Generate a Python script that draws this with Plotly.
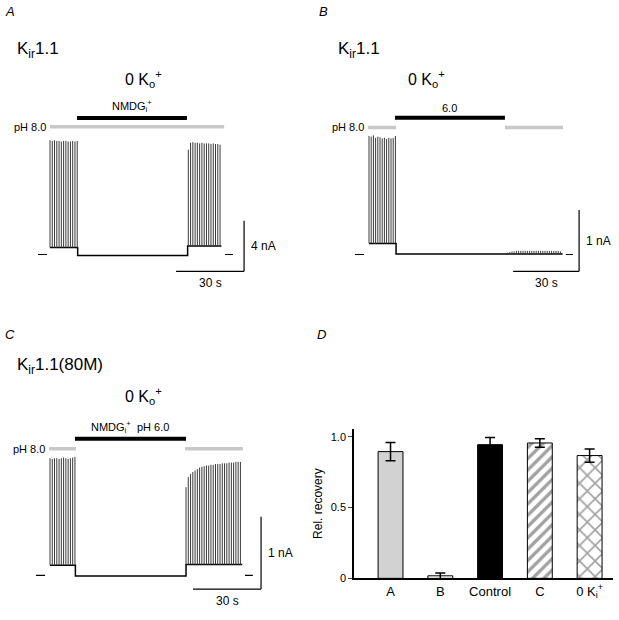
import plotly.graph_objs as go

W, H = 619, 620
FONT = "Liberation Sans, Arial, sans-serif"
GRAY = "#c8c8c8"

# ---- panel A : Kir1.1, NMDG+ internal (time s, current nA) ----
A_EDGES = [0, 12.2, 60.7, 75.6]          # block start, washout, recovery, end
A_LEVELS = [0.55, -0.08, 0.68]           # holding level in each phase
A_T1 = [0, 1, 2, 3, 4, 5, 6, 7, 8, 9, 10, 11, 12]
A_TOP1 = [9.05, 9.0, 9.05, 9.0, 9.0, 8.95, 9.0, 9.0, 8.95, 8.95, 9.0, 8.95, 9.0]
A_T2 = [61, 62, 63, 64, 65, 66, 67, 68, 69, 70, 71, 72, 73, 74, 75]
A_TOP2 = [8.3, 8.85, 8.9, 8.85, 8.85, 8.8, 8.85, 8.8, 8.8, 8.8, 8.75, 8.8, 8.75, 8.75, 8.7]
A_ZERO = [(-5.3, -1.3), (77.2, 80.7)]
A_BLACK = (11.9, 60.4)
A_PH8 = [(0, 76.8)]
A_SCALE = (30, 4)

# ---- panel B : Kir1.1, pH 6.0 ----
B_EDGES = [0, 12.3, 62.0, 88.0]
B_LEVELS = [0.18, 0.01, 0.01]
B_T1 = [0, 1, 2, 3, 4, 5, 6, 7, 8, 9, 10, 11, 12]
B_TOP1 = [1.93, 1.92, 1.94, 1.9, 1.92, 1.91, 1.89, 1.9, 1.88, 1.9, 1.89, 1.9, 1.93]
B_T2 = [63, 64, 65, 66, 67, 68, 69, 70, 71, 72, 73, 74, 75, 76, 77, 78, 79, 80,
        81, 82, 83, 84, 85, 86, 87]
B_TOP2 = [0.03, 0.04, 0.05, 0.05, 0.06, 0.06, 0.06, 0.06, 0.06, 0.06, 0.06, 0.06, 0.06,
          0.06, 0.06, 0.06, 0.06, 0.06, 0.06, 0.06, 0.06, 0.06, 0.06, 0.06, 0.05]
B_ZERO = [(-6.4, -2.3), (89.5, 92.7)]
B_BLACK = (11.8, 61.8)
B_PH8 = [(-0.5, 12.3), (61.8, 88.2)]
B_SCALE = (30, 1)

# ---- panel C : Kir1.1(80M), NMDG+ pH 6.0 ----
C_EDGES = [0, 11.2, 60.0, 84.8]
C_LEVELS = [0.14, -0.01, 0.15]
C_T1 = [0, 1, 2, 3, 4, 5, 6, 7, 8, 9, 10, 11]
C_TOP1 = [1.62, 1.61, 1.62, 1.62, 1.61, 1.62, 1.63, 1.62, 1.61, 1.62, 1.63, 1.64]
C_T2 = [60, 61, 62, 63, 64, 65, 66, 67, 68, 69, 70, 71, 72, 73, 74, 75, 76, 77,
        78, 79, 80, 81, 82, 83, 84]
C_TOP2 = [1.22, 1.36, 1.40, 1.43, 1.45, 1.47, 1.49, 1.50, 1.51, 1.52, 1.52, 1.53, 1.53,
          1.54, 1.54, 1.54, 1.55, 1.55, 1.55, 1.56, 1.56, 1.56, 1.57, 1.57, 1.57]
C_ZERO = [(-6.2, -2.2), (86.0, 89.5)]
C_BLACK = (11.0, 60.0)
C_PH8 = [(-0.4, 11.5), (59.6, 85.1)]
C_SCALE = (30, 1)

# ---- panel D : relative recovery ----
D_CATS = ["A", "B", "Control", "C", "0 K<sub>i</sub><sup>+</sup>"]
D_MEAN = [0.895, 0.018, 0.944, 0.956, 0.867]
D_SEM = [0.065, 0.02, 0.05, 0.03, 0.047]


def px(x):
    return x / W


def py(y):
    return 1 - y / H


def current_trace(edges, levels, t1, top1, t2, top2, ax):
    x = [edges[0], edges[1], edges[1], edges[2], edges[2], edges[3]]
    y = [levels[0], levels[0], levels[1], levels[1], levels[2], levels[2]]
    base = go.Scatter(x=x, y=y, mode="lines", line=dict(color="black", width=1.5),
                      xaxis="x" + ax, yaxis="y" + ax, hoverinfo="skip")
    sx, sy = [], []
    for t, top in zip(t1, top1):
        sx += [t, t, None]
        sy += [levels[0], top, None]
    for t, top in zip(t2, top2):
        sx += [t, t, None]
        sy += [levels[2], top, None]
    spikes = go.Scatter(x=sx, y=sy, mode="lines", line=dict(color="#3a3a3a", width=1),
                        xaxis="x" + ax, yaxis="y" + ax, hoverinfo="skip")
    return [base, spikes]


def zero_marks(pairs, ax):
    x, y = [], []
    for a, b in pairs:
        x += [a, b, None]
        y += [0, 0, None]
    return go.Scatter(x=x, y=y, mode="lines", line=dict(color="black", width=1.2),
                      xaxis="x" + ax, yaxis="y" + ax, hoverinfo="skip")


shapes = []
annotations = []


def solution_bars(black, grays, y_black, y_gray, label, ax):
    xr, yr = "x" + ax, "y" + ax
    for a, b in grays:
        shapes.append(dict(type="line", xref=xr, yref=yr, x0=a, x1=b, y0=y_gray, y1=y_gray,
                           line=dict(color=GRAY, width=3.5)))
    shapes.append(dict(type="line", xref=xr, yref=yr, x0=black[0], x1=black[1],
                       y0=y_black, y1=y_black, line=dict(color="black", width=4)))
    annotations.append(dict(xref=xr, yref=yr, x=(black[0] + black[1]) / 2, y=y_black,
                            text=label, showarrow=False, yanchor="bottom", yshift=2,
                            font=dict(size=11)))
    annotations.append(dict(xref=xr, yref=yr, x=grays[0][0], y=y_gray, text="pH 8.0",
                            showarrow=False, xanchor="right", yanchor="middle", xshift=-2,
                            font=dict(size=11)))


def scale_bar(t0, i0, scale, ax):
    xr, yr = "x" + ax, "y" + ax
    dt, di = scale
    t1 = t0 + dt
    shapes.append(dict(type="line", xref=xr, yref=yr, x0=t0, x1=t1, y0=i0, y1=i0,
                       line=dict(color="black", width=1.2)))
    shapes.append(dict(type="line", xref=xr, yref=yr, x0=t1, x1=t1, y0=i0, y1=i0 + di,
                       line=dict(color="black", width=1.2)))
    annotations.append(dict(xref=xr, yref=yr, x=t1, y=i0 + di / 2, text="%d nA" % di,
                            showarrow=False, xanchor="left", yanchor="middle", xshift=5,
                            font=dict(size=12)))
    annotations.append(dict(xref=xr, yref=yr, x=t0 + dt / 2, y=i0, text="%d s" % dt,
                            showarrow=False, yanchor="top", yshift=-3, font=dict(size=12)))


data = []
data += current_trace(A_EDGES, A_LEVELS, A_T1, A_TOP1, A_T2, A_TOP2, "")
data.append(zero_marks(A_ZERO, ""))
data += current_trace(B_EDGES, B_LEVELS, B_T1, B_TOP1, B_T2, B_TOP2, "2")
data.append(zero_marks(B_ZERO, "2"))
data += current_trace(C_EDGES, C_LEVELS, C_T1, C_TOP1, C_T2, C_TOP2, "3")
data.append(zero_marks(C_ZERO, "3"))

solution_bars(A_BLACK, A_PH8, 10.82, 10.12, "NMDG<sub>i</sub><sup>+</sup>", "")
solution_bars(B_BLACK, B_PH8, 2.226, 2.07, "6.0", "2")
solution_bars(C_BLACK, C_PH8, 1.89, 1.75, "NMDG<sub>i</sub><sup>+</sup>  pH 6.0", "3")

scale_bar(55.6, -1.33, A_SCALE, "")
scale_bar(65.5, -0.274, B_SCALE, "2")
scale_bar(63.1, -0.19, C_SCALE, "3")

data.append(go.Bar(
    x=D_CATS, y=D_MEAN, width=0.5,
    marker=dict(color=["#d2d2d2", "white", "black", "white", "white"],
                line=dict(color="black", width=1),
                pattern=dict(shape=["", "", "", "/", "x"], fgcolor="black", bgcolor="white",
                             size=[8, 8, 8, 8, 11], solidity=[0.3, 0.3, 0.3, 0.42, 0.28])),
    error_y=dict(type="data", array=D_SEM, color="black", thickness=1.5, width=5),
    xaxis="x4", yaxis="y4", hoverinfo="skip"))

# panel letters and headings
for txt, x, y in [("A", 3, 12), ("B", 317, 12), ("C", 3, 338), ("D", 315, 338)]:
    annotations.append(dict(xref="paper", yref="paper", x=px(x), y=py(y), text="<i>%s</i>" % txt,
                            showarrow=False, xanchor="left", yanchor="middle",
                            font=dict(size=13)))
for txt, x, y in [("K<sub>ir</sub>1.1", 15, 50), ("K<sub>ir</sub>1.1", 336, 50),
                  ("K<sub>ir</sub>1.1(80M)", 15, 370)]:
    annotations.append(dict(xref="paper", yref="paper", x=px(x), y=py(y), text=txt,
                            showarrow=False, xanchor="left", yanchor="middle",
                            font=dict(size=17)))
for x, y in [(123, 80), (447, 80), (123, 400)]:
    annotations.append(dict(xref="paper", yref="paper", x=px(x), y=py(y),
                            text="0 K<sub>o</sub><sup>+</sup>", showarrow=False,
                            yanchor="middle", font=dict(size=16)))

hidden = dict(visible=False, showgrid=False, zeroline=False)
layout = go.Layout(
    width=W, height=H, margin=dict(l=0, r=0, t=0, b=0),
    paper_bgcolor="white", plot_bgcolor="rgba(0,0,0,0)",
    showlegend=False, font=dict(family=FONT, color="black"),
    xaxis=dict(hidden, domain=[px(4.66), px(299.4)], range=[-20, 110]),
    yaxis=dict(hidden, domain=[py(308), py(8.4)], range=[-4, 19.5]),
    xaxis2=dict(hidden, domain=[px(303), px(615.4)], range=[-30, 112], anchor="y2"),
    yaxis2=dict(hidden, domain=[py(306.6), py(2.8)], range=[-0.8, 4.1], anchor="x2"),
    xaxis3=dict(hidden, domain=[px(4.66), px(303.9)], range=[-20, 112], anchor="y3"),
    yaxis3=dict(hidden, domain=[py(617.5), py(325.5)], range=[-0.5, 3.5], anchor="x3"),
    xaxis4=dict(domain=[px(354), px(613)], range=[-0.734, 4.47], anchor="y4",
                type="category", showline=True, linecolor="black", linewidth=1.5,
                ticks="", showgrid=False, tickfont=dict(size=13)),
    yaxis4=dict(domain=[py(584), py(433)], range=[0, 1.056], anchor="x4",
                tickvals=[0, 0.5, 1.0], ticktext=["0", "0.5", "1.0"],
                ticks="outside", ticklen=4, tickwidth=1.2, showline=True,
                linecolor="black", linewidth=1.5, showgrid=False, zeroline=False,
                tickfont=dict(size=11),
                title=dict(text="Rel. recovery", font=dict(size=12), standoff=6)),
    shapes=shapes, annotations=annotations,
)

fig = go.Figure(data=data, layout=layout)
# drop the default page margin so the figure sits at the window's corner
fig.write_html("out.html", config={"displayModeBar": False},
               post_script="document.body.style.margin='0px';")
